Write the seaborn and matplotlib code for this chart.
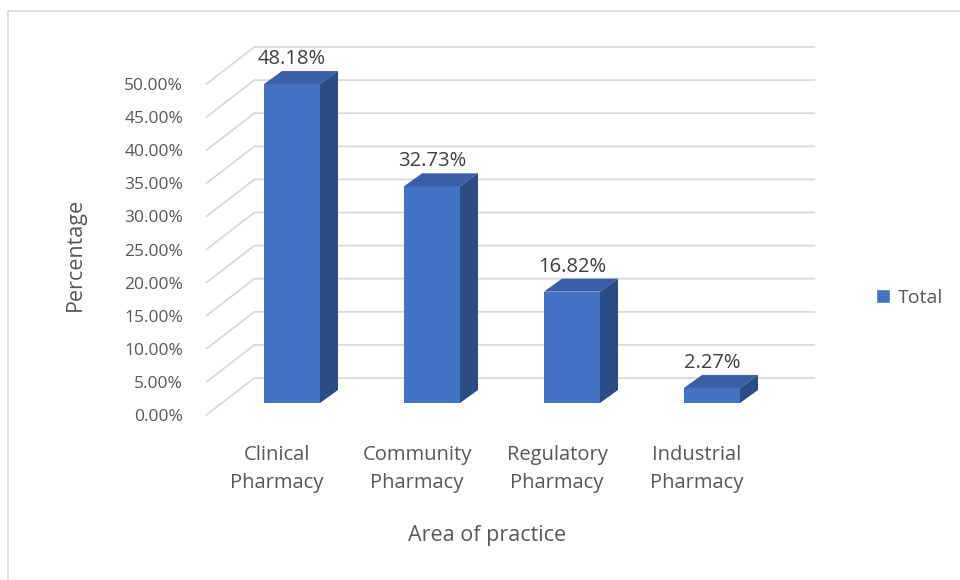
import matplotlib
matplotlib.use("Agg")
import matplotlib.pyplot as plt
import matplotlib.transforms as mtransforms
from matplotlib.patches import Polygon, Patch, Rectangle
import seaborn as sns

# Data
areas = ["Clinical\nPharmacy", "Community\nPharmacy", "Regulatory\nPharmacy", "Industrial\nPharmacy"]
percent = [48.18, 32.73, 16.82, 2.27]
y_ticks = [0, 5, 10, 15, 20, 25, 30, 35, 40, 45, 50]
series_name = "Total"

FRONT = "#4472C4"
TOP = "#3A5FA6"
SIDE = "#2C4C85"
GRID = "#D9D9D9"
TEXT = "#595959"
LABEL = "#404040"

sns.set_style("white")
plt.rcParams["font.family"] = ["Open Sans", "DejaVu Sans"]

W, H, DPI = 960, 580, 100
fig = plt.figure(figsize=(W / DPI, H / DPI), dpi=DPI)

# axes = front plane of the bars (pixel geometry of the reference)
ax_l, ax_r, ax_b, ax_t = 222, 782, 403, 72
ax = fig.add_axes([ax_l / W, 1 - ax_b / H, (ax_r - ax_l) / W, (ax_b - ax_t) / H])

sns.barplot(x=areas, y=percent, color=FRONT, saturation=1, width=0.4,
            edgecolor="none", ax=ax, zorder=3)
ax.set_xlim(-0.5, 3.5)
ax.set_ylim(0, 50)

px_x = (ax_r - ax_l) / 4.0
px_y = (ax_b - ax_t) / 50.0


def shift(x, y, dx, dy):
    return (x + dx / px_x, y + dy / px_y)


# back wall + floor-edge gridlines (pseudo 3D)
for v in y_ticks:
    pts = [shift(-0.5, v, -15.6, -12), shift(-0.5, v, 32.4, 25), shift(3.5, v, 32.4, 25)]
    ax.plot([p[0] for p in pts], [p[1] for p in pts], color=GRID, lw=1.3,
            clip_on=False, zorder=0)

# depth faces of each bar
dx, dy = 18, 13
for p in ax.patches:
    x0, w, h = p.get_x(), p.get_width(), p.get_height()
    top = [(x0, h), (x0 + w, h), shift(x0 + w, h, dx, dy), shift(x0, h, dx, dy)]
    side = [(x0 + w, 0), (x0 + w, h), shift(x0 + w, h, dx, dy), shift(x0 + w, 0, dx, dy)]
    ax.add_patch(Polygon(top, closed=True, facecolor=TOP, edgecolor="none",
                         clip_on=False, zorder=3))
    ax.add_patch(Polygon(side, closed=True, facecolor=SIDE, edgecolor="none",
                         clip_on=False, zorder=3))

for i, v in enumerate(percent):
    ax.annotate(f"{v:.2f}%", (i, v), xytext=(0, 25), textcoords="offset pixels",
                ha="center", va="center", fontsize=14.5, color=LABEL,
                annotation_clip=False)

sns.despine(ax=ax, left=True, bottom=True)
ax.set_yticks(y_ticks)
ax.set_yticklabels([f"{t:.2f}%" for t in y_ticks])
ax.tick_params(axis="y", length=0, pad=16.8, labelsize=12.5, labelcolor=TEXT)
ax.tick_params(axis="x", length=0, pad=30, labelsize=14.5, labelcolor=TEXT)
ax.set_xlabel("")
ax.set_ylabel("")

# tick labels sit on the front edge of the floor
y_off = mtransforms.ScaledTranslation(-15.6 / DPI, -12 / DPI, fig.dpi_scale_trans)
for lbl in ax.get_yticklabels():
    lbl.set_transform(lbl.get_transform() + y_off)
x_off = mtransforms.ScaledTranslation(-15 / DPI, 0, fig.dpi_scale_trans)
for lbl in ax.get_xticklabels():
    lbl.set_transform(lbl.get_transform() + x_off)
    lbl.set_linespacing(1.55)

fig.text(75 / W, 1 - 254 / H, "Percentage", rotation=90, ha="center", va="center",
         fontsize=15.5, color=TEXT)
fig.text(487 / W, 1 - 535 / H, "Area of practice", ha="center", va="center",
         fontsize=15.5, color=TEXT)

fig.legend(handles=[Patch(facecolor=FRONT, label=series_name)], loc="center left",
           bbox_to_anchor=(868 / W, 1 - 298 / H), frameon=False, fontsize=14,
           handlelength=0.75, handleheight=0.75, handletextpad=0.4,
           labelcolor=TEXT, borderaxespad=0)

# chart area border
fig.patches.append(Rectangle((8 / W, -0.05), 1.2, 1.05 - 11 / H, transform=fig.transFigure,
                             fill=False, edgecolor=GRID, lw=1.2))

fig.savefig("out.png", dpi=DPI)
plt.close(fig)
